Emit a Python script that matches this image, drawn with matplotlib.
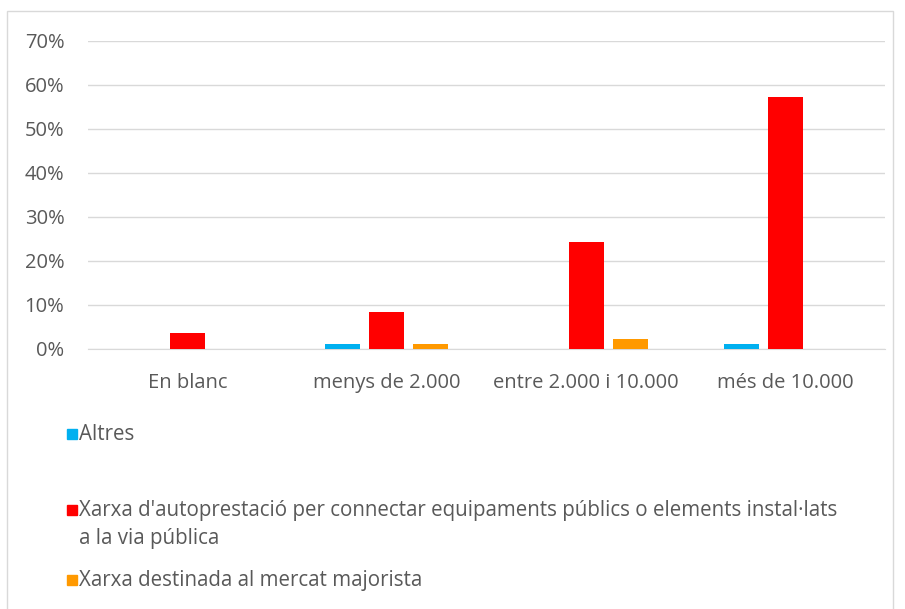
import numpy as np
import matplotlib.pyplot as plt
from matplotlib.patches import Rectangle

categories = ["En blanc", "menys de 2.000", "entre 2.000 i 10.000", "més de 10.000"]
series = ["Altres",
          "Xarxa d'autoprestació per connectar equipaments públics o elements instal·lats\na la via pública",
          "Xarxa destinada al mercat majorista"]
altres = [0.0, 1.1, 0.0, 1.1]
autoprestacio = [3.6, 8.4, 24.3, 57.3]
majorista = [0.0, 1.1, 2.3, 0.0]
colors = ["#00B0F0", "#FF0000", "#FF9900"]

plt.rcParams['font.family'] = ['Open Sans', 'DejaVu Sans']
grey = "#595959"
fs = 14.8

fig = plt.figure(figsize=(9.05, 6.09), dpi=100)
fig.patches.append(Rectangle((7 / 905, -0.05), 886 / 905, 1 - 11 / 609 + 0.05,
                             transform=fig.transFigure, fill=False,
                             edgecolor="#D9D9D9", linewidth=1))

ax = fig.add_axes([88 / 905, 1 - 349 / 609, 797 / 905, 308 / 609])
x = np.arange(len(categories))
w = 0.176
step = 0.221
for i, vals in enumerate([altres, autoprestacio, majorista]):
    v = np.array(vals) / 100
    xs = x + (i - 1) * step
    mask = v > 0
    ax.bar(xs[mask], v[mask], width=w, color=colors[i], zorder=3)

ax.set_xlim(-0.5, 3.5)
ax.set_ylim(0, 0.7)
ax.set_yticks(np.arange(0, 0.71, 0.1))
ax.set_yticklabels([f"{int(round(t * 100))}%" for t in np.arange(0, 0.71, 0.1)])
ax.set_xticks(x)
ax.set_xticklabels(categories)
ax.grid(axis="y", color="#D9D9D9", linewidth=1, zorder=0)
for s in ["top", "right", "left"]:
    ax.spines[s].set_visible(False)
ax.spines["bottom"].set_color("#D9D9D9")
ax.tick_params(axis="both", length=0, colors=grey, labelsize=14.5)
ax.tick_params(axis="y", pad=17)
ax.tick_params(axis="x", pad=17)

# legend drawn by hand to keep Excel-like spacing
leg_y = [434, 510, 580]
for i, name in enumerate(series):
    yy = 1 - leg_y[i] / 609
    fig.patches.append(Rectangle((67 / 905, yy - 5 / 609), 10 / 905, 10 / 609,
                                 transform=fig.transFigure, color=colors[i]))
    fig.text(79 / 905, yy + 10 / 609, name, ha="left", va="top", color=grey,
             fontsize=fs, linespacing=1.45)

fig.savefig("out.png", dpi=100)
